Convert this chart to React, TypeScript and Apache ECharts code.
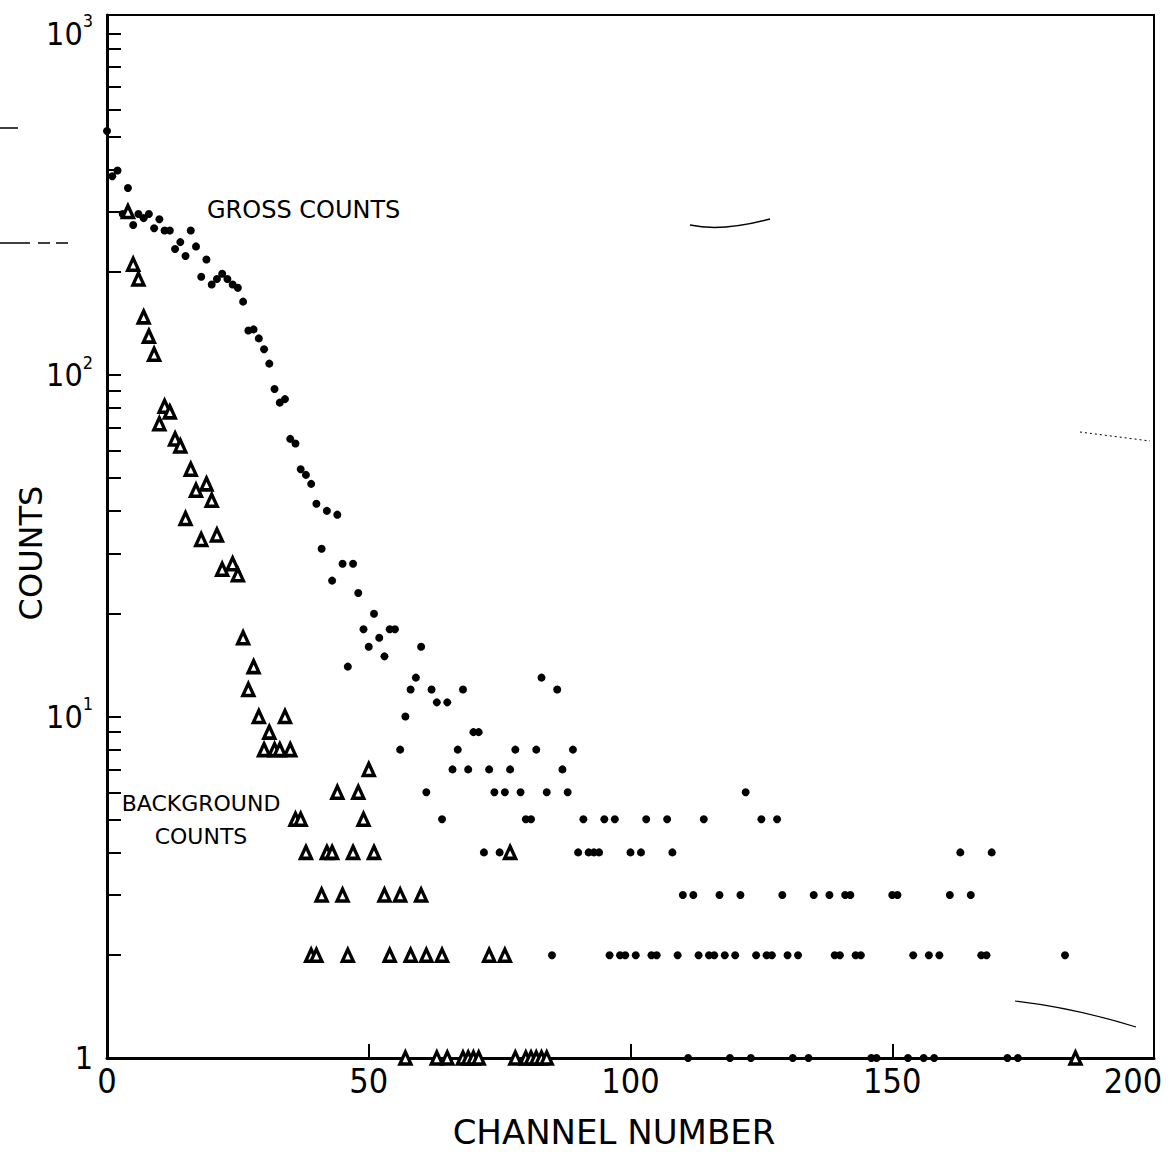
import React, { useEffect, useRef } from "react";
import * as echarts from "echarts";

// ---- data ----
const grossChannel = [
  0, 1, 2, 3, 4, 5, 6, 7, 8, 9, 10, 11, 12, 13, 14, 15, 16, 17, 18, 19,
  20, 21, 22, 23, 24, 25, 26, 27, 28, 29, 30, 31, 32, 33, 34, 35, 36, 37, 38, 39,
  40, 41, 42, 43, 44, 45, 46, 47, 48, 49, 50, 51, 52, 53, 54, 55, 56, 57, 58, 59,
  60, 61, 62, 63, 64, 65, 66, 67, 68, 69, 70, 71, 72, 73, 74, 75, 76, 77, 78, 79,
  80, 81, 82, 83, 84, 85, 86, 87, 88, 89, 90, 91, 92, 93, 94, 95, 96, 97, 98, 99,
  100, 101, 102, 103, 104, 105, 107, 108, 109, 110, 111, 112, 113, 114, 115, 116, 117, 118, 119,
  120, 121, 122, 123, 124, 125, 126, 127, 128, 129, 130, 131, 132, 134, 135, 138, 139,
  140, 141, 142, 143, 144, 146, 147, 150, 151, 153, 154, 156, 157, 158, 159,
  161, 163, 165, 167, 168, 169, 172, 174, 183,
];
const grossCount = [
  518, 382, 397, 296, 353, 275, 296, 288, 296, 269, 286, 265, 265, 234, 245, 223, 265, 238, 194, 218,
  184, 191, 198, 191, 184, 180, 164, 135, 136, 128, 119, 108, 91, 83, 85, 65, 63, 53, 51, 48,
  42, 31, 40, 25, 39, 28, 14, 28, 23, 18, 16, 20, 17, 15, 18, 18, 8, 10, 12, 13,
  16, 6, 12, 11, 5, 11, 7, 8, 12, 7, 9, 9, 4, 7, 6, 4, 6, 7, 8, 6,
  5, 5, 8, 13, 6, 2, 12, 7, 6, 8, 4, 5, 4, 4, 4, 5, 2, 5, 2, 2,
  4, 2, 4, 5, 2, 2, 5, 4, 2, 3, 1, 3, 2, 5, 2, 2, 3, 2, 1,
  2, 3, 6, 1, 2, 5, 2, 2, 5, 3, 2, 1, 2, 1, 3, 3, 2,
  2, 3, 3, 2, 2, 1, 1, 3, 3, 1, 2, 1, 2, 1, 2,
  3, 4, 3, 2, 2, 4, 1, 1, 2,
];

const backgroundChannel = [
  4, 5, 6, 7, 8, 9, 10, 11, 12, 13, 14, 15, 16, 17, 18, 19, 20, 21, 22, 24,
  25, 26, 27, 28, 29, 30, 31, 32, 33, 34, 35, 36, 37, 38, 39, 40, 41, 42, 43, 44,
  45, 46, 47, 48, 49, 50, 51, 53, 54, 56, 57, 58, 60, 61, 63, 64, 65, 68, 69, 70,
  71, 73, 76, 77, 78, 80, 81, 82, 83, 84, 185,
];
const backgroundCount = [
  301, 211, 191, 148, 130, 115, 72, 81, 78, 65, 62, 38, 53, 46, 33, 48, 43, 34, 27, 28,
  26, 17, 12, 14, 10, 8, 9, 8, 8, 10, 8, 5, 5, 4, 2, 2, 3, 4, 4, 6,
  3, 2, 4, 6, 5, 7, 4, 3, 2, 3, 1, 2, 3, 2, 1, 2, 1, 1, 1, 1,
  1, 2, 2, 4, 1, 1, 1, 1, 1, 1, 1,
];

const xTickValues = [0, 50, 100, 150, 200];
const yMajorValues = [1, 10, 100, 1000];
const yMinorValues = [
  2, 3, 4, 5, 6, 7, 8, 9, 20, 30, 40, 50, 60, 70, 80, 90, 200, 300, 400, 500, 600, 700, 800, 900,
];

const grossLabel = "GROSS COUNTS";
const backgroundLabel = "BACKGROUND\nCOUNTS";
const xTitle = "CHANNEL NUMBER";
const yTitle = "COUNTS";

const SANS = '"DejaVu Sans", "Liberation Sans", sans-serif';
const NARROW = '"Liberation Sans Narrow", "DejaVu Sans Condensed", "DejaVu Sans", sans-serif';

export default function App() {
  const ref = useRef<HTMLDivElement>(null);

  useEffect(() => {
    if (!ref.current) return;
    const chart = echarts.init(ref.current, null, { renderer: "svg" });

    const gross = grossChannel.map((c, i) => [c, grossCount[i]]);
    const background = backgroundChannel.map((c, i) => [c, backgroundCount[i]]);

    const option: any = {
      animation: false,
      backgroundColor: "#fff",
      grid: {
        left: 107,
        right: 17,
        top: 15,
        bottom: 94,
        containLabel: false,
        outerBoundsMode: "none",
        show: true,
        borderColor: "#000",
        borderWidth: 2,
        backgroundColor: "transparent",
      },
      xAxis: {
        type: "value",
        min: 0,
        max: 200,
        interval: 50,
        axisLine: { show: true, lineStyle: { color: "#000", width: 3 } },
        axisTick: {
          show: true,
          inside: true,
          length: 14,
          customValues: xTickValues,
          lineStyle: { color: "#000", width: 2 },
        },
        axisLabel: {
          color: "#000",
          fontSize: 34,
          fontFamily: NARROW,
          margin: 6,
          showMinLabel: true,
          showMaxLabel: true,
          formatter: (v: number) => (v === 200 ? "{r|200}" : "{n|" + v + "}"),
          rich: {
            n: { fontSize: 34, fontFamily: NARROW, color: "#000" },
            r: { fontSize: 34, fontFamily: NARROW, color: "#000", padding: [0, 42, 0, 0] },
          },
        },
        splitLine: { show: false },
      },
      yAxis: {
        type: "log",
        logBase: 10,
        min: 1,
        max: 1133,
        axisLine: { show: true, lineStyle: { color: "#000", width: 3 } },
        axisTick: {
          show: true,
          inside: true,
          length: 14,
          customValues: [...yMajorValues, ...yMinorValues],
          lineStyle: { color: "#000", width: 2 },
        },
        axisLabel: {
          customValues: yMajorValues,
          color: "#000",
          margin: 14,
          formatter: (v: number) => {
            if (Math.abs(v - 1) < 1e-6) return "{b|1}";
            const e = Math.round(Math.log10(v));
            return "{b|10}{s|" + e + "}";
          },
          rich: {
            b: { fontSize: 32, fontFamily: NARROW, color: "#000", lineHeight: 44 },
            s: { fontSize: 18, fontFamily: NARROW, color: "#000", verticalAlign: "top", lineHeight: 22 },
          },
        },
        splitLine: { show: false },
        minorTick: { show: false },
      },
      series: [
        {
          name: "Gross counts",
          type: "scatter",
          data: gross,
          symbol: "circle",
          symbolSize: 8,
          itemStyle: { color: "#000", opacity: 1 },
          z: 3,
        },
        {
          name: "Background counts",
          type: "scatter",
          data: background,
          symbol: "triangle",
          symbolSize: [11, 12],
          itemStyle: { color: "#fff", borderColor: "#000", borderWidth: 3.4, opacity: 1 },
          z: 4,
        },
      ],
      graphic: [
        {
          type: "text",
          x: 207,
          y: 210,
          style: {
            text: grossLabel,
            fontSize: 24,
            fontFamily: SANS,
            fill: "#000",
            textAlign: "left",
            textVerticalAlign: "middle",
          },
        },
        {
          type: "text",
          x: 201,
          y: 820,
          style: {
            text: backgroundLabel,
            fontSize: 22,
            lineHeight: 33,
            fontFamily: SANS,
            fill: "#000",
            textAlign: "center",
            textVerticalAlign: "middle",
          },
        },
        {
          type: "text",
          x: 614,
          y: 1132,
          style: {
            text: xTitle,
            fontSize: 34,
            fontFamily: SANS,
            fill: "#000",
            textAlign: "center",
            textVerticalAlign: "middle",
          },
        },
        {
          type: "text",
          x: 31,
          y: 553,
          rotation: Math.PI / 2,
          style: {
            text: yTitle,
            fontSize: 32,
            fontFamily: SANS,
            fill: "#000",
            textAlign: "center",
            textVerticalAlign: "middle",
          },
        },
        // scan artefacts
        {
          type: "bezierCurve",
          shape: { x1: 690, y1: 225, x2: 770, y2: 219, cpx1: 722, cpy1: 232 },
          style: { stroke: "#000", lineWidth: 1.5, fill: "none" },
        },
        {
          type: "bezierCurve",
          shape: { x1: 1015, y1: 1001, x2: 1136, y2: 1027, cpx1: 1075, cpy1: 1008 },
          style: { stroke: "#000", lineWidth: 1.2, fill: "none" },
        },
        {
          type: "line",
          shape: { x1: 1080, y1: 432, x2: 1150, y2: 441 },
          style: { stroke: "#000", lineWidth: 1, lineDash: [2, 3] },
        },
        {
          type: "line",
          shape: { x1: 0, y1: 128, x2: 18, y2: 128 },
          style: { stroke: "#000", lineWidth: 1.5 },
        },
        {
          type: "line",
          shape: { x1: 0, y1: 243, x2: 68, y2: 243 },
          style: { stroke: "#000", lineWidth: 1.5, lineDash: [30, 8, 12, 6] },
        },
      ],
    };

    chart.setOption(option);
    return () => chart.dispose();
  }, []);

  return (
    <div
      ref={ref}
      style={{ position: "absolute", left: 0, top: 0, width: 1171, height: 1152, background: "#fff" }}
    />
  );
}
